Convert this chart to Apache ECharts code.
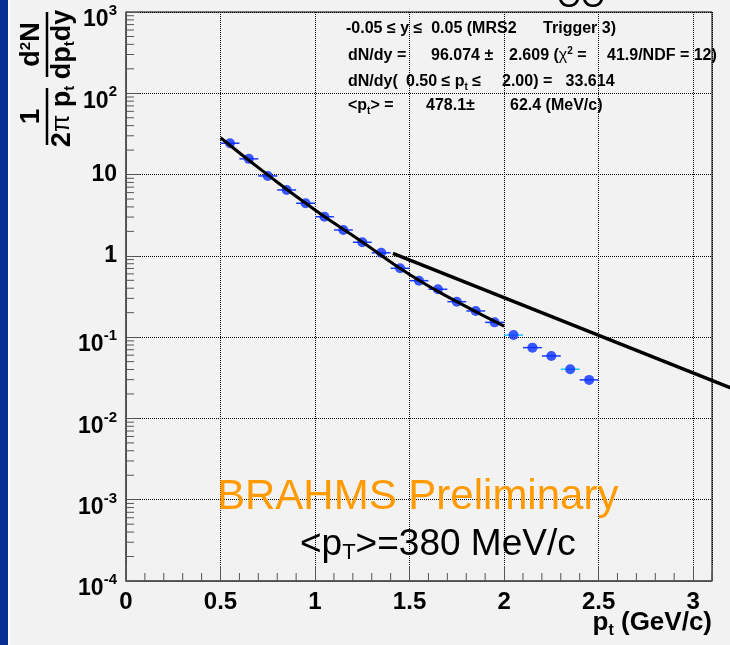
<!DOCTYPE html>
<html><head><meta charset="utf-8">
<script src="https://cdn.jsdelivr.net/npm/echarts@6/dist/echarts.min.js"></script>
<style>html,body{margin:0;padding:0;background:#f2f2f2;}#c{width:730px;height:645px;}</style>
</head><body><div id="c"></div>
<script>
// ---- data ----
const ptValues    = [0.55,0.65,0.75,0.85,0.95,1.05,1.15,1.25,1.35,1.45,1.55,1.65,1.75,1.85,1.95,2.05,2.15,2.25,2.35,2.45];
const yieldValues = [24.3,15.6,9.62,6.47,4.44,3.03,2.08,1.47,1.09,0.703,0.495,0.388,0.273,0.210,0.152,0.106,0.0743,0.0587,0.0403,0.0298];
const binHalfWidth = [0.05,0.05,0.05,0.05,0.05,0.05,0.05,0.05,0.05,0.05,0.05,0.05,0.05,0.05,0.05,0.05,0.05,0.05,0.05,0.05];
const errColors   = ['#1a3cff','#1a3cff','#1a3cff','#1a3cff','#1a3cff','#1a3cff','#1a3cff','#1a3cff','#1a3cff','#1a3cff','#1a3cff','#1a3cff','#1a3cff','#1a3cff','#1a3cff','#18c8ff','#1a3cff','#1a3cff','#18c8ff','#1a3cff'];
const fitLowPt    = [0.5, 0.75, 1.0, 1.25, 1.5, 1.75, 2.0];
const fitLowVal   = [28.4, 9.9, 3.67, 1.48, 0.59, 0.273, 0.137];
const fitHighPt   = [1.412, 3.203];
const fitHighVal  = [1.076, 0.0235];
const xTickLabels = ['0','0.5','1','1.5','2','2.5','3'];
const yTickExponents = [-4,-3,-2,-1,0,1,2,3];

const FONT = '"Liberation Sans", Arial, Helvetica, sans-serif';
const SF = 'bold 16px ' + FONT;

const pointData = ptValues.map((p,i)=>[p, yieldValues[i]]);
const errData = ptValues.map((p,i)=>[p, yieldValues[i], binHalfWidth[i]]);
const yMinor = [];
for (let k=0;k<yTickExponents.length-1;k++) for (let m=2;m<=9;m++) yMinor.push([0, m*Math.pow(10,yTickExponents[k])]);
const xMinor = [];
for (let i=1;i<=31;i++){ const v=i/10; if (i%5!==0) xMinor.push([v, 1e-4]); }

function txt(x,y,text,extra){ return Object.assign({type:'text',x:x,y:y,z:100,style:Object.assign({text:text,font:SF,fill:'#000',verticalAlign:'middle'},extra||{})}); }
const subRich = {n:{font:SF,fill:'#000'},d:{font:'bold 10px '+FONT,fill:'#000',padding:[11,0,0,0]},
                 g:{font:'16px '+FONT,fill:'#000'},u:{font:'bold 10px '+FONT,fill:'#000',padding:[0,0,9,0]}};

const chart = echarts.init(document.getElementById('c'), null, {renderer:'canvas'});
const option = {
  animation:false,
  backgroundColor:'#f2f2f2',
  grid:{left:126,right:18,top:12,bottom:64,show:true,borderColor:'#000',borderWidth:1},
  xAxis:{type:'value',min:0,max:3.1,interval:0.5,
    axisLine:{show:true,lineStyle:{color:'#555',width:1.5}},
    axisTick:{show:true,inside:true,length:15,lineStyle:{color:'#555',width:1}},
    axisLabel:{margin:9,color:'#000',fontSize:24,fontWeight:'bold',fontFamily:FONT,showMaxLabel:true,showMinLabel:true,
      formatter:v=>{const i=Math.round(v*2); return Math.abs(v*2-i)<1e-6 && i<xTickLabels.length ? xTickLabels[i] : '';}},
    splitLine:{show:true,lineStyle:{type:'dotted',color:'#000',width:1}}},
  yAxis:{type:'log',logBase:10,min:1e-4,max:1e3,splitNumber:7,
    axisLine:{show:true,lineStyle:{color:'#555',width:1.5}},
    axisTick:{show:true,inside:true,length:14,lineStyle:{color:'#555',width:1}},
    axisLabel:{margin:9,color:'#000',fontFamily:FONT,
      formatter:v=>{const e=Math.round(Math.log10(v)); if(e===0) return '{p|1}'; if(e===1) return '{p|10}'; return '{b|10}{s|'+e+'}';},
      rich:{p:{fontSize:23,fontWeight:'bold',fontFamily:FONT,color:'#000'},
            b:{fontSize:23,fontWeight:'bold',fontFamily:FONT,color:'#000',padding:[16,0,0,0]},
            s:{fontSize:15,fontWeight:'bold',fontFamily:FONT,color:'#000',padding:[0,0,2,0]}}},
    splitLine:{show:true,lineStyle:{type:'dotted',color:'#000',width:1}}},
  series:[
    {type:'custom',name:'yminor',data:yMinor,silent:true,z:3,
      renderItem:(params,api)=>{const p=api.coord([api.value(0),api.value(1)]);
        return {type:'line',shape:{x1:p[0],y1:p[1],x2:p[0]+8,y2:p[1]},style:{stroke:'#555',lineWidth:1}};}},
    {type:'custom',name:'xminor',data:xMinor,silent:true,z:3,
      renderItem:(params,api)=>{const p=api.coord([api.value(0),api.value(1)]);
        return {type:'line',shape:{x1:p[0],y1:p[1],x2:p[0],y2:p[1]-8},style:{stroke:'#555',lineWidth:1}};}},
    {type:'custom',name:'errors',data:errData,silent:true,z:4,
      renderItem:(params,api)=>{const x=api.value(0),y=api.value(1),h=api.value(2);
        const a=api.coord([x-h,y]), b=api.coord([x+h,y]);
        return {type:'line',shape:{x1:a[0],y1:a[1],x2:b[0],y2:b[1]},style:{stroke:errColors[params.dataIndex],lineWidth:1.5}};}},
    {type:'scatter',name:'data',data:pointData,symbol:'circle',symbolSize:10,itemStyle:{color:'#0a30ff'},z:5},
    {type:'line',name:'fitLow',data:fitLowPt.map((p,i)=>[p,fitLowVal[i]]),showSymbol:false,smooth:true,
      lineStyle:{color:'#000',width:3},z:6},
    {type:'custom',name:'fitHigh',data:fitHighPt.map((p,i)=>[p,fitHighVal[i]]),clip:false,silent:true,z:6,
      renderItem:(params,api)=>{ if(params.dataIndex!==0) return null;
        const pts=fitHighPt.map((p,i)=>api.coord([p,fitHighVal[i]]));
        return {type:'polyline',shape:{points:pts},style:{stroke:'#000',lineWidth:3.5,fill:null}};}}
  ],
  graphic:[
    {type:'rect',shape:{x:0,y:0,width:8,height:645},style:{fill:'#0a2f94'},z:100},
    {type:'rect',shape:{x:8,y:0,width:2,height:645},style:{fill:'#ffffff'},z:100},
    {type:'text',x:557,y:-2,style:{text:'OO',font:'31px '+FONT,fill:'#000',align:'left',verticalAlign:'middle'},z:100},
    // stats box
    txt(346,29,'-0.05 \u2264 y \u2264  0.05 (MRS2'),
    txt(616,29,'Trigger 3)',{align:'right'}),
    txt(348,56,'dN/dy ='),
    txt(431,56,'96.074 \u00b1'),
    txt(509,56,'{n|2.609 (}{g|\u03c7}{u|2}{n| =}',{rich:subRich}),
    txt(607,56,'41.9/NDF = 12)'),
    txt(348,82,'dN/dy('),
    txt(406,82,'{n|0.50 \u2264 p}{d|t}{n| \u2264}',{rich:subRich}),
    txt(502,82,'2.00) =   33.614'),
    txt(348,106,'{n|<p}{d|t}{n|> =}',{rich:subRich}),
    txt(426,106,'478.1\u00b1'),
    txt(510,106,'62.4 (MeV/c)'),
    // annotations
    {type:'text',x:217,y:497,style:{text:'BRAHMS Preliminary',font:'42px '+FONT,fill:'#ff9a00',verticalAlign:'middle'},z:100},
    {type:'text',x:300,y:545,style:{text:'{a|<p}{s|T}{a|>=380 MeV/c}',verticalAlign:'middle',
      rich:{a:{font:'37px '+FONT,fill:'#000'},s:{font:'22px '+FONT,fill:'#000',padding:[16,0,0,0]}}},z:100},
    // x axis title
    {type:'text',x:712,y:623,style:{text:'{a|p}{s|t}{a| (GeV/c)}',align:'right',verticalAlign:'middle',
      rich:{a:{font:'bold 26px '+FONT,fill:'#000'},s:{font:'bold 16px '+FONT,fill:'#000',padding:[16,0,0,0]}}},z:100},
    // y axis title
    {type:'group',x:47,y:148,rotation:Math.PI/2,z:100,children:[
      {type:'line',shape:{x1:3,y1:0,x2:60,y2:0},style:{stroke:'#000',lineWidth:2.5}},
      {type:'text',x:31.5,y:-2,style:{text:'1',font:'bold 28px '+FONT,fill:'#000',align:'center',verticalAlign:'bottom'}},
      {type:'text',x:31.5,y:1,style:{text:'{a|2}{g|\u03c0}{a| p}{s|t}',align:'center',verticalAlign:'top',
        rich:{a:{font:'bold 27px '+FONT,fill:'#000'},g:{font:'25px '+FONT,fill:'#000'},s:{font:'bold 15px '+FONT,fill:'#000',padding:[14,0,0,0]}}}},
      {type:'line',shape:{x1:71,y1:0,x2:136,y2:0},style:{stroke:'#000',lineWidth:2.5}},
      {type:'text',x:103.5,y:-2,style:{text:'{a|d}{u|2}{a|N}',align:'center',verticalAlign:'bottom',
        rich:{a:{font:'bold 27px '+FONT,fill:'#000'},u:{font:'bold 15px '+FONT,fill:'#000',padding:[0,0,12,0]}}}},
      {type:'text',x:103.5,y:1,style:{text:'{a|dp}{s|t}{a|dy}',align:'center',verticalAlign:'top',
        rich:{a:{font:'bold 27px '+FONT,fill:'#000'},s:{font:'bold 15px '+FONT,fill:'#000',padding:[14,0,0,0]}}}}
    ]}
  ]
};
chart.setOption(option);
</script></body></html>
